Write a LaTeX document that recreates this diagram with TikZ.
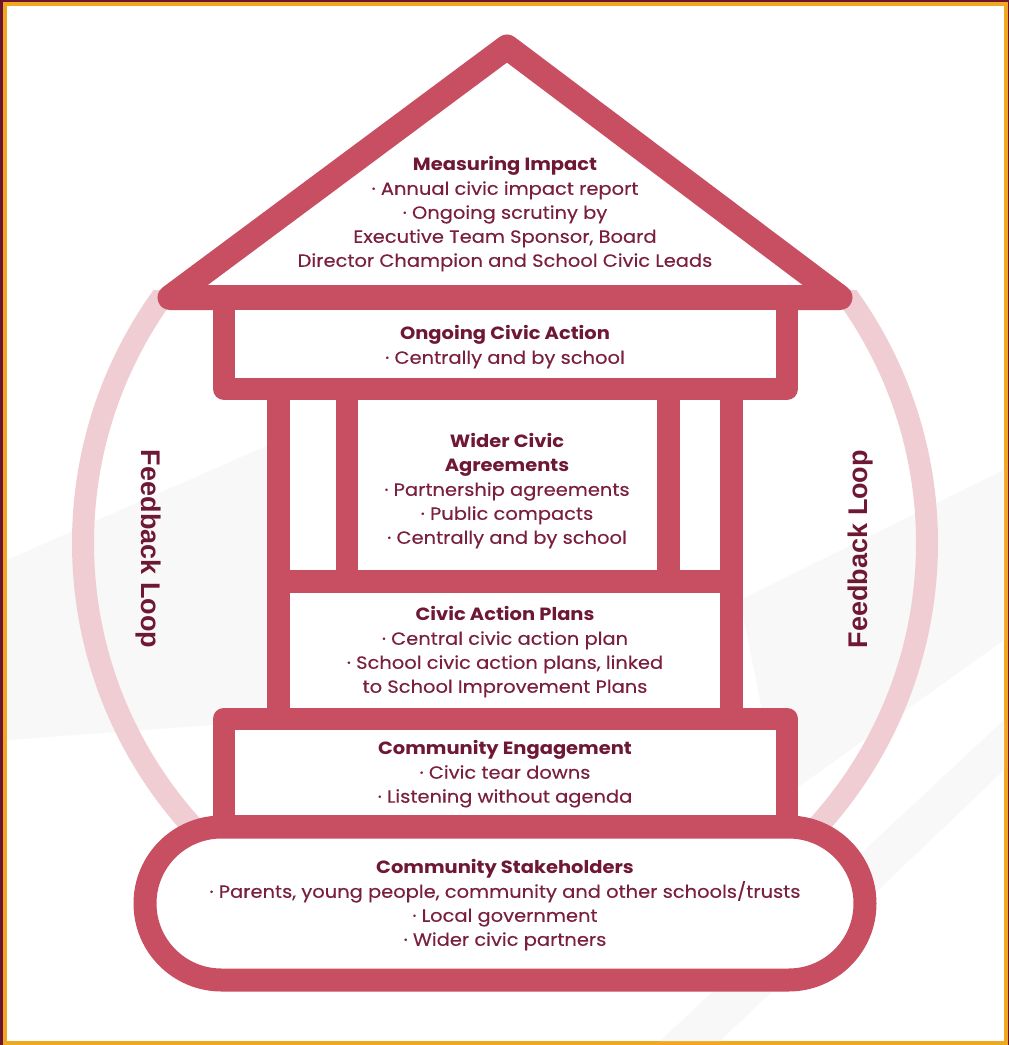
\documentclass[tikz,border=0pt]{standalone}
\usepackage{fontspec}
\setmainfont{Poppins}[FakeStretch=1.1, UprightFeatures={FakeBold=0.25}]
\newfontfamily\fbfont{Liberation Sans}
\definecolor{housec}{HTML}{C84F61}
\definecolor{ringc}{HTML}{EFCDD3}
\definecolor{textc}{HTML}{7A1F3D}
\definecolor{titlec}{HTML}{6E1833}
\definecolor{framemaroon}{HTML}{6B1530}
\definecolor{frameorange}{HTML}{F0A823}
\definecolor{bgshade}{HTML}{F8F8F8}
\begin{document}
\begin{tikzpicture}[x=1pt,y=-1pt,
  houseline/.style={draw=housec, line width=23pt, line join=round, fill=white},
  txt/.style={text=textc, align=center, inner sep=0pt, font=\fontsize{17.7}{24}\selectfont},
  fb/.style={text=titlec, inner sep=0pt, font=\fbfont\bfseries\fontsize{27}{27}\selectfont}]
\useasboundingbox (0,0) rectangle (1009,1045);
% frame
\fill[framemaroon] (0,0) rectangle (1009,1045);
\fill[frameorange] (3,2) rectangle (1008,1045);
\fill[white] (7,6) rectangle (1004,1041);
% faint background shapes
\fill[bgshade] (7,560) -- (280,440) -- (280,720) -- (7,740) -- cycle;
\fill[bgshade] (740,600) -- (1004,470) -- (1004,640) -- (780,800) -- cycle;
\fill[bgshade] (660,1041) -- (1004,720) -- (1004,770) -- (720,1041) -- cycle;
% feedback ring (hidden above the eaves)
\begin{scope}
  \clip (0,290) rectangle (1009,1045);
  \draw[ringc, line width=22pt] (505,543) circle[radius=422];
\end{scope}
% roof
\draw[houseline, line width=25pt, line cap=round] (170,297.5) -- (507,47) -- (840,297.5) -- cycle;
% ongoing civic action box
\draw[houseline, line width=22pt] (224,299) rectangle (787,389);
% columns and bar
\fill[housec] (267,389) rectangle (290,718);
\fill[housec] (720,389) rectangle (743,718);
\fill[housec] (336,389) rectangle (358,582);
\fill[housec] (657,389) rectangle (680,582);
\fill[housec] (267,570) rectangle (743,593);
% community engagement box
\draw[houseline, line width=22pt] (224,718.5) rectangle (787,826);
% stakeholders pill
\draw[houseline, line width=23pt, rounded corners=76.5pt] (145,827) rectangle (865,980);
% texts
\node[txt] (impact) at (505,214) {{\bfseries\color{titlec}Measuring Impact}\\
  · Annual civic impact report\\ · Ongoing scrutiny by\\
  Executive Team Sponsor, Board\\ Director Champion and School Civic Leads};
\node[txt] (ongoing) at (505,347) {{\bfseries\color{titlec}Ongoing Civic Action}\\ · Centrally and by school};
\node[txt] (wider) at (507,491) {{\bfseries\color{titlec}Wider Civic}\\ {\bfseries\color{titlec}Agreements}\\
  · Partnership agreements\\ · Public compacts\\ · Centrally and by school};
\node[txt] (plans) at (505,652) {{\bfseries\color{titlec}Civic Action Plans}\\ · Central civic action plan\\
  · School civic action plans, linked\\ to School Improvement Plans};
\node[txt] (engage) at (505,774) {{\bfseries\color{titlec}Community Engagement}\\ · Civic tear downs\\ · Listening without agenda};
\node[txt] (stake) at (505,905) {{\bfseries\color{titlec}Community Stakeholders}\\
  · Parents, young people, community and other schools/trusts\\ · Local government\\ · Wider civic partners};
\node[fb, rotate=-90] (fbl) at (148,549) {Feedback Loop};
\node[fb, rotate=90] (fbr) at (861,549) {Feedback Loop};
\end{tikzpicture}
\end{document}
